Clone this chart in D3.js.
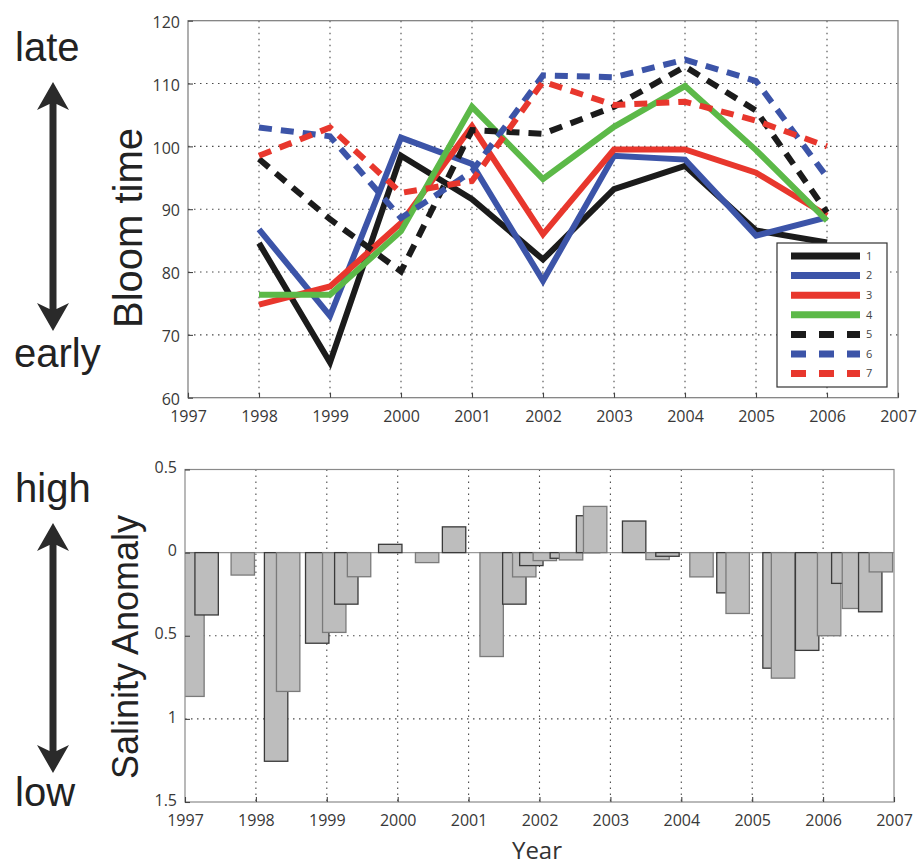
<!DOCTYPE html>
<html>
<head>
<meta charset="utf-8">
<script src="https://cdn.jsdelivr.net/npm/d3@7"></script>
<style>
  html, body { margin: 0; padding: 0; background: #fff; }
  svg { display: block; }
</style>
</head>
<body>
<svg id="chart" width="918" height="866"></svg>
<script>
// ---- Bloom time per station (day of year), 1998–2006 ----
const years = [1998, 1999, 2000, 2001, 2002, 2003, 2004, 2005, 2006];
const station1 = [84.6, 65.6, 98.5, 91.6, 82.0, 93.2, 96.9, 86.6, 84.7];
const station2 = [86.8, 73.0, 101.4, 97.2, 78.6, 98.5, 97.9, 85.8, 88.7];
const station3 = [74.8, 77.7, 87.8, 103.2, 86.0, 99.5, 99.5, 95.8, 89.0];
const station4 = [76.4, 76.4, 86.5, 106.3, 94.8, 103.1, 109.6, 99.4, 88.2];
const station5 = [98.0, 88.4, 80.1, 102.6, 102.0, 106.3, 112.7, 105.7, 89.5];
const station6 = [103.0, 101.6, 88.6, 96.0, 111.3, 111.0, 113.8, 110.4, 95.1];
const station7 = [98.5, 103.0, 92.6, 94.5, 110.3, 106.6, 107.1, 104.1, 100.0];
const stationNames = ["1", "2", "3", "4", "5", "6", "7"];

// ---- Salinity anomaly record: start of each averaging window (decimal year) and value ----
const salinityStart = [
  1996.94, 1997.14, 1997.65, 1998.12, 1998.29, 1998.70, 1998.94, 1999.11, 1999.29,
  1999.73, 2000.25, 2000.63, 2001.16, 2001.48, 2001.62, 2001.72, 2001.91, 2002.15,
  2002.28, 2002.52, 2002.62, 2003.17, 2003.50, 2003.64, 2004.12, 2004.50, 2004.63,
  2005.15, 2005.27, 2005.61, 2005.92, 2006.12, 2006.27, 2006.50, 2006.65
];
const salinityValue = [
  -0.865, -0.375, -0.135, -1.255, -0.835, -0.545, -0.48, -0.31, -0.145,
  0.05, -0.06, 0.155, -0.625, -0.31, -0.146, -0.078, -0.048, -0.034,
  -0.044, 0.222, 0.278, 0.19, -0.042, -0.022, -0.146, -0.242, -0.366,
  -0.695, -0.755, -0.588, -0.50, -0.185, -0.336, -0.356, -0.116
];

// ---- Axis tick values and labels ----
const yearTicks = [1997, 1998, 1999, 2000, 2001, 2002, 2003, 2004, 2005, 2006, 2007];
const bloomTicks = [60, 70, 80, 90, 100, 110, 120];
const salinityTicks = [0.5, 0, -0.5, -1, -1.5];
const salinityTickLabels = ["0.5", "0", "0.5", "1", "1.5"];

const svg = d3.select("#chart");
const tickFont = "'Open Sans', 'Noto Sans', sans-serif";
const sideFont = "'Liberation Sans', Arial, sans-serif";

// ================= Upper panel: bloom time =================
const upper = { left: 188, right: 898, top: 20.7, bottom: 397.7 };
const xTop = d3.scaleLinear().domain([1997, 2007]).range([upper.left, upper.right]);
const yTop = d3.scaleLinear().domain([60, 120]).range([upper.bottom, upper.top]);

const series = [
  { name: stationNames[0], values: station1, color: "#1b1b1b", dashed: false },
  { name: stationNames[1], values: station2, color: "#3c54a8", dashed: false },
  { name: stationNames[2], values: station3, color: "#e8372d", dashed: false },
  { name: stationNames[3], values: station4, color: "#5cb948", dashed: false },
  { name: stationNames[4], values: station5, color: "#1b1b1b", dashed: true },
  { name: stationNames[5], values: station6, color: "#3c54a8", dashed: true },
  { name: stationNames[6], values: station7, color: "#e8372d", dashed: true }
];

const gTop = svg.append("g");

// dotted grid
const gridStyle = sel => sel.attr("stroke", "#4a4a4a").attr("stroke-width", 1.1)
  .attr("stroke-dasharray", "1.5,4.5");
gTop.append("g").selectAll("line").data(yearTicks.slice(1, -1)).join("line")
  .attr("x1", d => xTop(d)).attr("x2", d => xTop(d))
  .attr("y1", upper.top).attr("y2", upper.bottom).call(gridStyle);
gTop.append("g").selectAll("line").data(bloomTicks.slice(1, -1)).join("line")
  .attr("x1", upper.left).attr("x2", upper.right)
  .attr("y1", d => yTop(d)).attr("y2", d => yTop(d)).call(gridStyle);

// frame
gTop.append("rect").attr("x", upper.left).attr("y", upper.top)
  .attr("width", upper.right - upper.left).attr("height", upper.bottom - upper.top)
  .attr("fill", "none").attr("stroke", "#7a7a7a").attr("stroke-width", 1.2);

// axes (inward ticks, matlab style)
const axTopX = gTop.append("g").attr("transform", `translate(0,${upper.bottom})`)
  .call(d3.axisBottom(xTop).tickValues(yearTicks).tickFormat(d3.format("d"))
    .tickSizeInner(-5).tickSizeOuter(0).tickPadding(13));
const axTopY = gTop.append("g").attr("transform", `translate(${upper.left},0)`)
  .call(d3.axisLeft(yTop).tickValues(bloomTicks).tickFormat(d3.format("d"))
    .tickSizeInner(-5).tickSizeOuter(0).tickPadding(8));

function styleAxis(ax) {
  ax.select(".domain").remove();
  ax.selectAll(".tick line").attr("stroke", "#444").attr("stroke-width", 1.1);
  ax.selectAll(".tick text").attr("font-family", tickFont).attr("font-size", 16)
    .attr("fill", "#383838");
}
styleAxis(axTopX);
styleAxis(axTopY);
axTopY.selectAll(".tick text").attr("dy", "0.42em");

// station lines
const line = d3.line().x((d, i) => xTop(years[i])).y(d => yTop(d));
gTop.append("g").selectAll("path").data(series).join("path")
  .attr("d", d => line(d.values))
  .attr("fill", "none")
  .attr("stroke", d => d.color)
  .attr("stroke-width", 6)
  .attr("stroke-linejoin", "miter")
  .attr("stroke-dasharray", d => d.dashed ? "13,9" : null);

// legend
const legend = gTop.append("g");
const lg = { x: 777, y: 243, w: 110, h: 144, row: 19.6 };
legend.append("rect").attr("x", lg.x).attr("y", lg.y).attr("width", lg.w).attr("height", lg.h)
  .attr("fill", "#fff").attr("stroke", "#333").attr("stroke-width", 1.2);
const item = legend.selectAll("g.item").data(series).join("g").attr("class", "item")
  .attr("transform", (d, i) => `translate(${lg.x},${lg.y + 13 + i * lg.row})`);
item.append("line").attr("x1", 14).attr("x2", 83).attr("y1", 0).attr("y2", 0)
  .attr("stroke", d => d.color).attr("stroke-width", 7)
  .attr("stroke-dasharray", d => d.dashed ? "15,13" : null);
item.append("text").attr("x", 89).attr("y", 0).attr("dy", "0.35em")
  .attr("font-family", tickFont).attr("font-size", 11).attr("fill", "#444")
  .text(d => d.name);

// ================= Lower panel: salinity anomaly =================
const lower = { left: 185, right: 894, top: 469.5, bottom: 802 };
const xBot = d3.scaleLinear().domain([1997, 2007]).range([lower.left, lower.right]);
const yBot = d3.scaleLinear().domain([-1.5, 0.5]).range([lower.bottom, lower.top]);
const windowSpan = 0.33; // each anomaly covers a four-month window

const gBot = svg.append("g");
gBot.append("defs").append("clipPath").attr("id", "botClip")
  .append("rect").attr("x", lower.left).attr("y", lower.top)
  .attr("width", lower.right - lower.left).attr("height", lower.bottom - lower.top);

gBot.append("g").selectAll("line").data(yearTicks.slice(1, -1)).join("line")
  .attr("x1", d => xBot(d)).attr("x2", d => xBot(d))
  .attr("y1", lower.top).attr("y2", lower.bottom).call(gridStyle);
gBot.append("g").selectAll("line").data([-0.5, -1]).join("line")
  .attr("x1", lower.left).attr("x2", lower.right)
  .attr("y1", d => yBot(d)).attr("y2", d => yBot(d)).call(gridStyle);

// zero line
gBot.append("line").attr("x1", lower.left).attr("x2", lower.right)
  .attr("y1", yBot(0)).attr("y2", yBot(0))
  .attr("stroke", "#9a9a9a").attr("stroke-width", 1.3);

const bars = salinityStart.map((s, i) => ({ start: s, value: salinityValue[i] }));
gBot.append("g").attr("clip-path", "url(#botClip)")
  .selectAll("rect").data(bars).join("rect")
  .attr("x", d => xBot(d.start))
  .attr("width", d => xBot(d.start + windowSpan) - xBot(d.start))
  .attr("y", d => yBot(Math.max(0, d.value)))
  .attr("height", d => Math.abs(yBot(d.value) - yBot(0)))
  .attr("fill", "#bdbdbd")
  .attr("stroke", (d, i) => i % 2 ? "#3a3a3a" : "#7a7a7a")
  .attr("stroke-width", 1.3);

gBot.append("rect").attr("x", lower.left).attr("y", lower.top)
  .attr("width", lower.right - lower.left).attr("height", lower.bottom - lower.top)
  .attr("fill", "none").attr("stroke", "#8a8a8a").attr("stroke-width", 1.2);

const axBotX = gBot.append("g").attr("transform", `translate(0,${lower.bottom})`)
  .call(d3.axisBottom(xBot).tickValues(yearTicks).tickFormat(d3.format("d"))
    .tickSizeInner(-5).tickSizeOuter(0).tickPadding(13));
const axBotY = gBot.append("g").attr("transform", `translate(${lower.left},0)`)
  .call(d3.axisLeft(yBot).tickValues(salinityTicks)
    .tickFormat((d, i) => salinityTickLabels[i])
    .tickSizeInner(-5).tickSizeOuter(0).tickPadding(8));
styleAxis(axBotX);
styleAxis(axBotY);
axBotY.selectAll(".tick text").attr("dy", "0.2em");

// ================= Side annotations =================
const ann = svg.append("g").attr("fill", "#222").attr("font-family", sideFont);

function arrow(x, y1, y2) {
  const g = svg.append("g").attr("fill", "#2a2a2a");
  const hw = 16, hl = 28, sw = 3.5;
  g.append("path").attr("d",
    `M${x},${y1} L${x + hw},${y1 + hl} L${x + sw},${y1 + hl - 6} L${x + sw},${y2 - hl + 6}` +
    ` L${x + hw},${y2 - hl} L${x},${y2} L${x - hw},${y2 - hl} L${x - sw},${y2 - hl + 6}` +
    ` L${x - sw},${y1 + hl - 6} L${x - hw},${y1 + hl} Z`);
}

ann.append("text").attr("x", 15).attr("y", 61).attr("font-size", 40).text("late");
ann.append("text").attr("x", 14).attr("y", 367).attr("font-size", 40).text("early");
arrow(53, 82, 331);
ann.append("text").attr("transform", "translate(142,228) rotate(-90)")
  .attr("text-anchor", "middle").attr("font-size", 40).text("Bloom time");

ann.append("text").attr("x", 15).attr("y", 502).attr("font-size", 40).text("high");
ann.append("text").attr("x", 15).attr("y", 806).attr("font-size", 40).text("low");
arrow(53, 523, 773);
ann.append("text").attr("transform", "translate(138,647) rotate(-90)")
  .attr("text-anchor", "middle").attr("font-size", 36).text("Salinity Anomaly");

svg.append("text").attr("x", 537).attr("y", 859).attr("text-anchor", "middle")
  .attr("font-family", tickFont).attr("font-size", 24).attr("fill", "#333").text("Year");
</script>
</body>
</html>
